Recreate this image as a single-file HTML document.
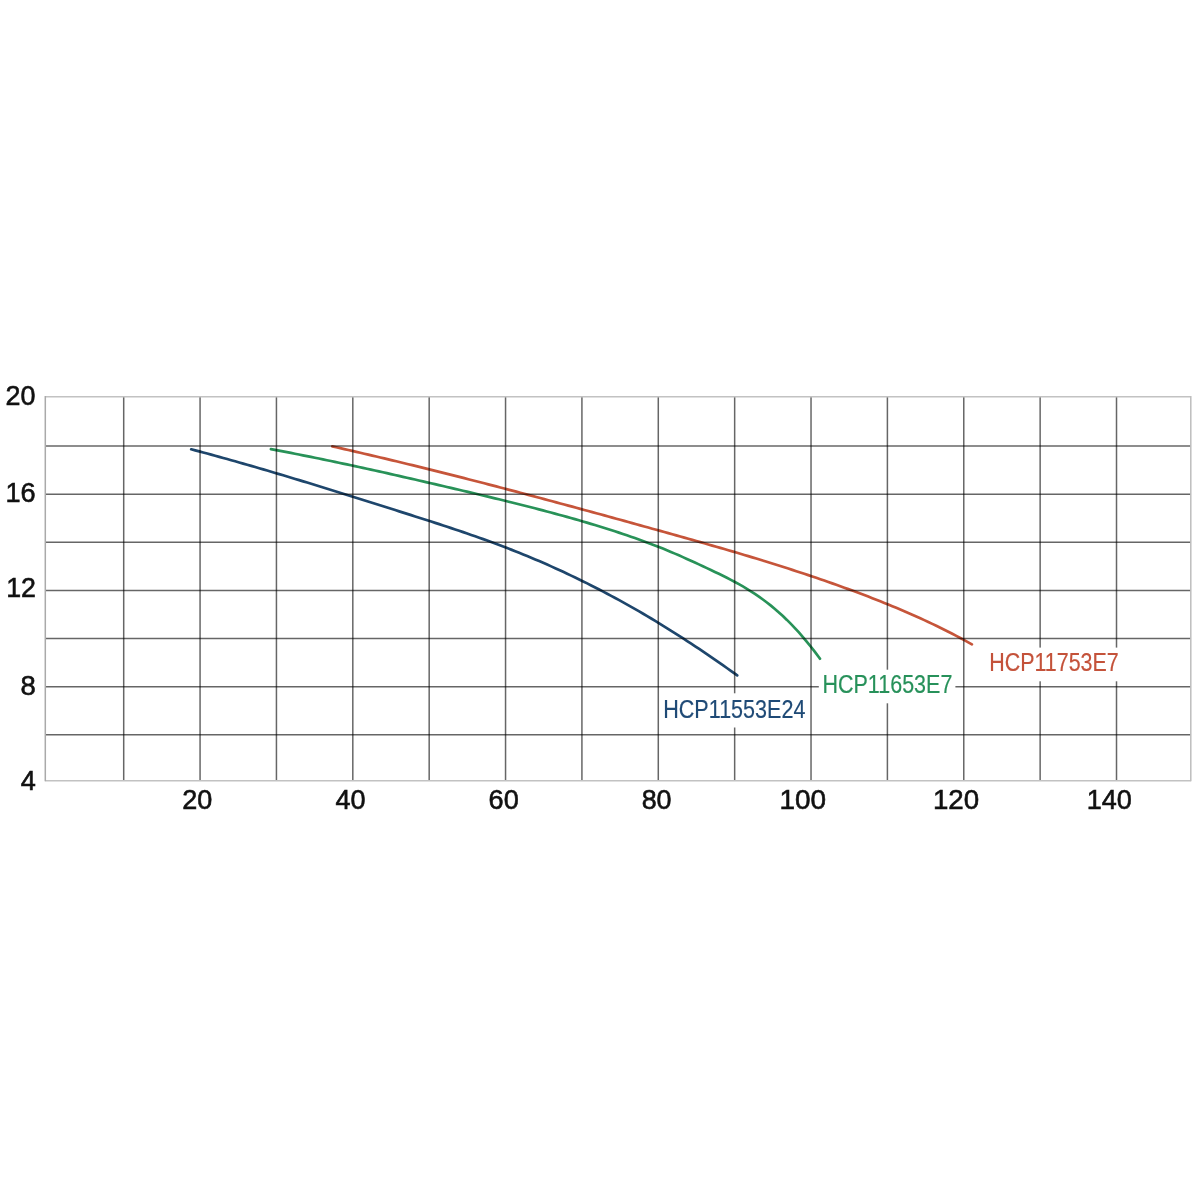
<!DOCTYPE html>
<html><head><meta charset="utf-8"><style>
html,body{margin:0;padding:0;background:#fff;}
body{width:1200px;height:1200px;overflow:hidden;}
svg{display:block;will-change:transform;}
text{font-family:"Liberation Sans",sans-serif;}
</style></head><body>
<svg width="1200" height="1200" viewBox="0 0 1200 1200">
<rect x="0" y="0" width="1200" height="1200" fill="#fff"/>
<g fill="none" stroke-width="2.7" stroke-linecap="round" stroke-linejoin="round">
<path stroke="#1e466c" d="M191.20 449.29 L195.20 450.34 L199.20 451.41 L203.20 452.48 L207.20 453.56 L211.20 454.65 L215.20 455.75 L219.20 456.85 L223.20 457.96 L227.20 459.07 L231.20 460.19 L235.20 461.32 L239.20 462.46 L243.20 463.60 L247.20 464.74 L251.20 465.90 L255.20 467.06 L259.20 468.22 L263.20 469.39 L267.20 470.56 L271.20 471.74 L275.20 472.93 L279.20 474.12 L283.20 475.31 L287.20 476.51 L291.20 477.71 L295.20 478.92 L299.20 480.13 L303.20 481.35 L307.20 482.57 L311.20 483.79 L315.20 485.02 L319.20 486.25 L323.20 487.48 L327.20 488.72 L331.20 489.96 L335.20 491.20 L339.20 492.44 L343.20 493.69 L347.20 494.94 L351.20 496.19 L355.20 497.45 L359.20 498.70 L363.20 499.96 L367.20 501.22 L371.20 502.48 L375.20 503.74 L379.20 505.01 L383.20 506.27 L387.20 507.54 L391.20 508.80 L395.20 510.07 L399.20 511.34 L403.20 512.61 L407.20 513.87 L411.20 515.15 L415.20 516.42 L419.20 517.69 L423.20 518.97 L427.20 520.26 L431.20 521.55 L435.20 522.85 L439.20 524.15 L443.20 525.46 L447.20 526.78 L451.20 528.11 L455.20 529.44 L459.20 530.79 L463.20 532.15 L467.20 533.52 L471.20 534.91 L475.20 536.31 L479.20 537.72 L483.20 539.14 L487.20 540.59 L491.20 542.05 L495.20 543.52 L499.20 545.02 L503.20 546.53 L507.20 548.06 L511.20 549.62 L515.20 551.19 L519.20 552.79 L523.20 554.40 L527.20 556.04 L531.20 557.71 L535.20 559.39 L539.20 561.10 L543.20 562.83 L547.20 564.59 L551.20 566.36 L555.20 568.16 L559.20 569.99 L563.20 571.83 L567.20 573.70 L571.20 575.60 L575.20 577.52 L579.20 579.46 L583.20 581.42 L587.20 583.41 L591.20 585.42 L595.20 587.46 L599.20 589.52 L603.20 591.60 L607.20 593.71 L611.20 595.84 L615.20 598.00 L619.20 600.18 L623.20 602.39 L627.20 604.62 L631.20 606.87 L635.20 609.15 L639.20 611.45 L643.20 613.78 L647.20 616.14 L651.20 618.51 L655.20 620.92 L659.20 623.35 L663.20 625.80 L667.20 628.28 L671.20 630.78 L675.20 633.31 L679.20 635.86 L683.20 638.44 L687.20 641.04 L691.20 643.66 L695.20 646.30 L699.20 648.97 L703.20 651.66 L707.20 654.37 L711.20 657.10 L715.20 659.85 L719.20 662.63 L723.20 665.42 L727.20 668.23 L731.20 671.06 L735.20 673.92 L737.20 675.35"/>
<path stroke="#289258" d="M270.90 449.14 L274.90 449.89 L278.90 450.64 L282.90 451.40 L286.90 452.17 L290.90 452.95 L294.90 453.73 L298.90 454.52 L302.90 455.31 L306.90 456.11 L310.90 456.92 L314.90 457.73 L318.90 458.54 L322.90 459.37 L326.90 460.20 L330.90 461.03 L334.90 461.87 L338.90 462.71 L342.90 463.56 L346.90 464.42 L350.90 465.27 L354.90 466.14 L358.90 467.01 L362.90 467.88 L366.90 468.75 L370.90 469.63 L374.90 470.52 L378.90 471.41 L382.90 472.30 L386.90 473.19 L390.90 474.09 L394.90 475.00 L398.90 475.90 L402.90 476.81 L406.90 477.72 L410.90 478.64 L414.90 479.55 L418.90 480.47 L422.90 481.40 L426.90 482.32 L430.90 483.25 L434.90 484.18 L438.90 485.11 L442.90 486.04 L446.90 486.97 L450.90 487.91 L454.90 488.85 L458.90 489.79 L462.90 490.73 L466.90 491.67 L470.90 492.61 L474.90 493.56 L478.90 494.51 L482.90 495.46 L486.90 496.41 L490.90 497.37 L494.90 498.34 L498.90 499.30 L502.90 500.28 L506.90 501.26 L510.90 502.24 L514.90 503.23 L518.90 504.23 L522.90 505.24 L526.90 506.25 L530.90 507.27 L534.90 508.30 L538.90 509.34 L542.90 510.39 L546.90 511.45 L550.90 512.52 L554.90 513.60 L558.90 514.69 L562.90 515.79 L566.90 516.90 L570.90 518.03 L574.90 519.17 L578.90 520.32 L582.90 521.48 L586.90 522.66 L590.90 523.85 L594.90 525.06 L598.90 526.28 L602.90 527.52 L606.90 528.78 L610.90 530.05 L614.90 531.33 L618.90 532.64 L622.90 533.96 L626.90 535.31 L630.90 536.68 L634.90 538.07 L638.90 539.49 L642.90 540.94 L646.90 542.41 L650.90 543.92 L654.90 545.45 L658.90 547.02 L662.90 548.62 L666.90 550.26 L670.90 551.93 L674.90 553.63 L678.90 555.36 L682.90 557.12 L686.90 558.91 L690.90 560.72 L694.90 562.55 L698.90 564.39 L702.90 566.26 L706.90 568.13 L710.90 570.02 L714.90 571.92 L718.90 573.84 L722.90 575.79 L726.90 577.79 L730.90 579.84 L734.90 581.95 L738.90 584.15 L742.90 586.43 L746.90 588.80 L750.90 591.29 L754.90 593.89 L758.90 596.62 L762.90 599.49 L766.90 602.49 L770.90 605.65 L774.90 608.96 L778.90 612.43 L782.90 616.08 L786.90 619.90 L790.90 623.91 L794.90 628.09 L798.90 632.46 L802.90 637.03 L806.90 641.78 L810.90 646.74 L814.90 651.89 L818.90 657.26 L820.00 658.77"/>
<path stroke="#c6553a" d="M332.30 446.38 L336.30 447.28 L340.30 448.19 L344.30 449.10 L348.30 450.01 L352.30 450.93 L356.30 451.85 L360.30 452.77 L364.30 453.70 L368.30 454.64 L372.30 455.57 L376.30 456.52 L380.30 457.46 L384.30 458.41 L388.30 459.37 L392.30 460.32 L396.30 461.29 L400.30 462.25 L404.30 463.22 L408.30 464.19 L412.30 465.17 L416.30 466.15 L420.30 467.13 L424.30 468.12 L428.30 469.11 L432.30 470.10 L436.30 471.10 L440.30 472.10 L444.30 473.10 L448.30 474.11 L452.30 475.12 L456.30 476.13 L460.30 477.15 L464.30 478.17 L468.30 479.19 L472.30 480.21 L476.30 481.24 L480.30 482.27 L484.30 483.31 L488.30 484.34 L492.30 485.38 L496.30 486.43 L500.30 487.47 L504.30 488.52 L508.30 489.57 L512.30 490.62 L516.30 491.67 L520.30 492.73 L524.30 493.79 L528.30 494.85 L532.30 495.92 L536.30 496.98 L540.30 498.05 L544.30 499.12 L548.30 500.20 L552.30 501.27 L556.30 502.35 L560.30 503.43 L564.30 504.51 L568.30 505.59 L572.30 506.67 L576.30 507.76 L580.30 508.85 L584.30 509.94 L588.30 511.03 L592.30 512.12 L596.30 513.22 L600.30 514.31 L604.30 515.41 L608.30 516.51 L612.30 517.61 L616.30 518.71 L620.30 519.82 L624.30 520.92 L628.30 522.03 L632.30 523.13 L636.30 524.24 L640.30 525.35 L644.30 526.46 L648.30 527.57 L652.30 528.68 L656.30 529.80 L660.30 530.91 L664.30 532.03 L668.30 533.14 L672.30 534.26 L676.30 535.38 L680.30 536.50 L684.30 537.62 L688.30 538.75 L692.30 539.88 L696.30 541.01 L700.30 542.15 L704.30 543.29 L708.30 544.43 L712.30 545.58 L716.30 546.73 L720.30 547.89 L724.30 549.05 L728.30 550.22 L732.30 551.39 L736.30 552.57 L740.30 553.76 L744.30 554.95 L748.30 556.15 L752.30 557.35 L756.30 558.57 L760.30 559.79 L764.30 561.02 L768.30 562.25 L772.30 563.50 L776.30 564.75 L780.30 566.01 L784.30 567.29 L788.30 568.57 L792.30 569.86 L796.30 571.16 L800.30 572.47 L804.30 573.79 L808.30 575.12 L812.30 576.47 L816.30 577.82 L820.30 579.19 L824.30 580.57 L828.30 581.96 L832.30 583.36 L836.30 584.78 L840.30 586.21 L844.30 587.65 L848.30 589.11 L852.30 590.58 L856.30 592.06 L860.30 593.56 L864.30 595.08 L868.30 596.60 L872.30 598.15 L876.30 599.71 L880.30 601.29 L884.30 602.89 L888.30 604.51 L892.30 606.15 L896.30 607.82 L900.30 609.50 L904.30 611.21 L908.30 612.94 L912.30 614.70 L916.30 616.48 L920.30 618.29 L924.30 620.12 L928.30 621.99 L932.30 623.88 L936.30 625.80 L940.30 627.75 L944.30 629.74 L948.30 631.76 L952.30 633.81 L956.30 635.89 L960.30 638.01 L964.30 640.17 L968.30 642.36 L971.90 644.37"/>
</g>
<g stroke="#000" stroke-opacity="0.6" stroke-width="1.5" fill="none">
<line x1="123.70" y1="396.7" x2="123.70" y2="780.7"/>
<line x1="200.07" y1="396.7" x2="200.07" y2="780.7"/>
<line x1="276.44" y1="396.7" x2="276.44" y2="780.7"/>
<line x1="352.81" y1="396.7" x2="352.81" y2="780.7"/>
<line x1="429.18" y1="396.7" x2="429.18" y2="780.7"/>
<line x1="505.55" y1="396.7" x2="505.55" y2="780.7"/>
<line x1="581.92" y1="396.7" x2="581.92" y2="780.7"/>
<line x1="658.29" y1="396.7" x2="658.29" y2="780.7"/>
<line x1="734.66" y1="396.7" x2="734.66" y2="780.7"/>
<line x1="811.03" y1="396.7" x2="811.03" y2="780.7"/>
<line x1="887.40" y1="396.7" x2="887.40" y2="780.7"/>
<line x1="963.77" y1="396.7" x2="963.77" y2="780.7"/>
<line x1="1040.14" y1="396.7" x2="1040.14" y2="780.7"/>
<line x1="1116.51" y1="396.7" x2="1116.51" y2="780.7"/>
<line x1="45.3" y1="446.00" x2="1190.8" y2="446.00"/>
<line x1="45.3" y1="494.13" x2="1190.8" y2="494.13"/>
<line x1="45.3" y1="542.26" x2="1190.8" y2="542.26"/>
<line x1="45.3" y1="590.39" x2="1190.8" y2="590.39"/>
<line x1="45.3" y1="638.52" x2="1190.8" y2="638.52"/>
<line x1="45.3" y1="686.65" x2="1190.8" y2="686.65"/>
<line x1="45.3" y1="734.78" x2="1190.8" y2="734.78"/>
</g>
<g fill="none" stroke-width="1.5">
<line x1="45.3" y1="396.7" x2="1190.8" y2="396.7" stroke="#c2c2c2"/>
<line x1="45.3" y1="780.7" x2="1190.8" y2="780.7" stroke="#c2c2c2"/>
<line x1="45.3" y1="396" x2="45.3" y2="781.3" stroke="#aaaaaa"/>
<line x1="1190.8" y1="396" x2="1190.8" y2="781.3" stroke="#bdbdbd"/>
</g>
<g fill="#fff">
<rect x="660" y="693.3" width="149" height="34.2"/>
<rect x="818.8" y="669.7" width="136.6" height="33.6"/>
<rect x="986" y="647.6" width="136" height="33.7"/>
</g>
<g fill="#111" stroke="#111" stroke-width="0.6" font-size="28">
<text x="5.45" y="404.60" textLength="29.90" lengthAdjust="spacingAndGlyphs">20</text>
<text x="5.53" y="502.30" textLength="30.16" lengthAdjust="spacingAndGlyphs">16</text>
<text x="6.16" y="597.30" textLength="29.79" lengthAdjust="spacingAndGlyphs">12</text>
<text x="20.51" y="695.00" textLength="15.29" lengthAdjust="spacingAndGlyphs">8</text>
<text x="20.68" y="789.80" textLength="15.07" lengthAdjust="spacingAndGlyphs">4</text>
<text x="182.19" y="808.60" textLength="30.07" lengthAdjust="spacingAndGlyphs">20</text>
<text x="335.43" y="808.60" textLength="30.08" lengthAdjust="spacingAndGlyphs">40</text>
<text x="488.62" y="808.60" textLength="30.13" lengthAdjust="spacingAndGlyphs">60</text>
<text x="641.63" y="808.60" textLength="29.92" lengthAdjust="spacingAndGlyphs">80</text>
<text x="779.47" y="808.60" textLength="46.62" lengthAdjust="spacingAndGlyphs">100</text>
<text x="932.89" y="808.60" textLength="46.19" lengthAdjust="spacingAndGlyphs">120</text>
<text x="1086.64" y="808.60" textLength="45.12" lengthAdjust="spacingAndGlyphs">140</text>
</g>
<g font-size="25.5">
<text x="663.25" y="718.3" fill="#1f4a76" stroke="#1f4a76" stroke-width="0.2" textLength="142.17" lengthAdjust="spacingAndGlyphs">HCP11553E24</text>
<text x="822.46" y="693.1" fill="#27915a" stroke="#27915a" stroke-width="0.2" textLength="129.9" lengthAdjust="spacingAndGlyphs">HCP11653E7</text>
<text x="989.16" y="671.1" fill="#c4523a" stroke="#c4523a" stroke-width="0.2" textLength="129.6" lengthAdjust="spacingAndGlyphs">HCP11753E7</text>
</g>
</svg>
</body></html>
